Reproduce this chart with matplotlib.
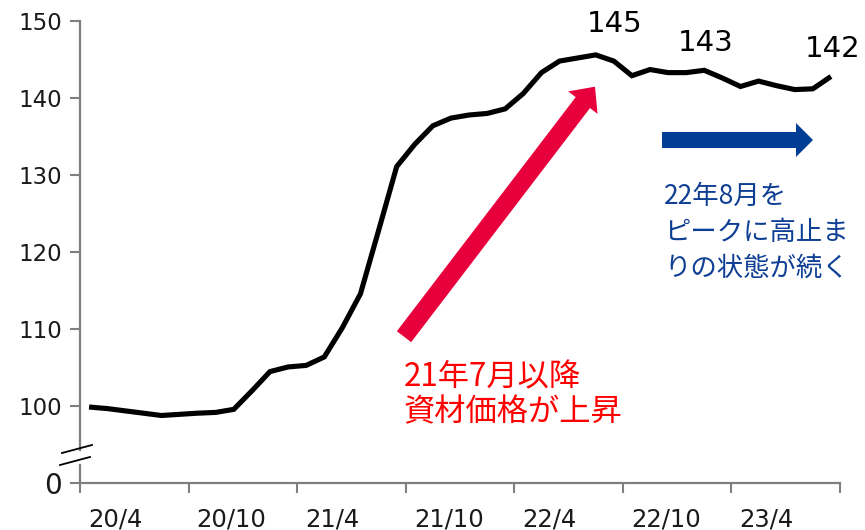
import matplotlib
matplotlib.use("Agg")
import matplotlib.pyplot as plt
from matplotlib.patches import FancyArrow
from matplotlib.lines import Line2D
import matplotlib.transforms as mtransforms

# ---------------- data ----------------
values = [99.9, 99.7, 99.4, 99.1, 98.8, 98.95, 99.1, 99.2, 99.6, 102.0,
          104.5, 105.1, 105.3, 106.4, 110.2, 114.6, 122.8, 131.1, 134.0, 136.4,
          137.4, 137.8, 138.0, 138.6, 140.6, 143.3, 144.8, 145.2, 145.6, 144.8,
          142.9, 143.7, 143.3, 143.3, 143.6, 142.6, 141.5, 142.2, 141.6, 141.1,
          141.2, 142.8]
tick_labels = ["20/4", "20/10", "21/4", "21/10", "22/4", "22/10", "23/4"]
ytick_values = [100, 110, 120, 130, 140, 150]
annot_labels = ["145", "143", "142"]
annot_index = [28, 34, 41]
red_text = "21年7月以降\n資材価格が上昇"
blue_text = "22年8月を\nピークに高止ま\nりの状態が続く"

W, H = 865, 530
fig = plt.figure(figsize=(W / 100, H / 100), dpi=100)

def fx(px):
    return px / W

def fy(py):
    return 1 - py / H

ax_left, ax_right, ax_top, ax_bot = 80, 840, 21, 483.3
ax = fig.add_axes([fx(ax_left), fy(ax_bot), fx(ax_right - ax_left), (ax_bot - ax_top) / H])

n = len(values)
x = list(range(n))
ax.plot(x, values, color="black", lw=3.7, solid_joinstyle="miter", solid_capstyle="butt")
ax.set_xlim(-0.5, n - 0.5)
ax.set_ylim(90, 150)

axis_col = "#7f7f7f"
for s in ["top", "right", "left"]:
    ax.spines[s].set_visible(False)
ax.spines["bottom"].set_color(axis_col)
ax.spines["bottom"].set_linewidth(1.6)

# left spine with a gap (axis break)
trans_y = mtransforms.blended_transform_factory(ax.transAxes, ax.transData)
ax.add_line(Line2D([0, 0], [90, 92.4], transform=trans_y, color=axis_col, lw=1.6, clip_on=False))
ax.add_line(Line2D([0, 0], [94.3, 150], transform=trans_y, color=axis_col, lw=1.6, clip_on=False))

# y ticks
ax.set_yticks([90] + ytick_values)
ax.set_yticklabels(["0"] + [str(v) for v in ytick_values])
ax.tick_params(axis="y", direction="out", length=7, width=1.5, color=axis_col,
               labelsize=16.5, pad=6, labelcolor="#1a1a1a")
ax.get_yticklabels()[0].set_fontsize(20)

# x ticks at category boundaries
step = 6
ax.set_xticks([i * step - 0.5 for i in range(len(tick_labels) + 1)])
ax.set_xticklabels([])
ax.tick_params(axis="x", direction="out", length=7, width=1.5, color=axis_col)
trans_x = mtransforms.blended_transform_factory(ax.transData, ax.transAxes)
for k, lab in enumerate(tick_labels):
    ax.annotate(lab, xy=(k * step, 0), xycoords=trans_x, xytext=(-1, -24),
                textcoords="offset pixels", ha="left", va="top",
                fontsize=17.5, color="#1a1a1a")

# break marks
for (x0, y0, x1, y1) in [(62, 453, 92, 445), (60, 465, 90, 457)]:
    fig.add_artist(Line2D([fx(x0), fx(x1)], [fy(y0), fy(y1)], transform=fig.transFigure,
                          color="black", lw=1.3))

# value annotations
offsets = [(19, 31), (1, 27), (2, 27.5)]
for lab, idx, off in zip(annot_labels, annot_index, offsets):
    ax.annotate(lab, xy=(idx, values[idx]), xytext=off, textcoords="offset pixels",
                ha="center", va="center", fontsize=21, color="black")

# arrows in pixel space (figure inches)
def px_arrow(x0, y0, x1, y1, width, head_w, head_l, color):
    dx = (x1 - x0) / 100
    dy = -(y1 - y0) / 100
    arr = FancyArrow(x0 / 100, (H - y0) / 100, dx, dy, width=width / 100,
                     head_width=head_w / 100, head_length=head_l / 100,
                     length_includes_head=True, color=color, lw=0,
                     transform=fig.dpi_scale_trans)
    fig.add_artist(arr)

px_arrow(404, 336.7, 595, 86.7, 18, 37, 20, "#E8003D")
px_arrow(662, 140, 813, 140, 16, 34, 17, "#003D94")

cjk = ["Noto Sans CJK JP", "DejaVu Sans"]
fig.text(fx(404), fy(395), red_text, ha="left", va="center", fontsize=22.5,
         color="#FF0000", family=cjk, linespacing=1.14)
fig.text(fx(664), fy(232), blue_text, ha="left", va="center", fontsize=19,
         color="#0F3F95", family=cjk, linespacing=1.42)

fig.savefig("out.png", dpi=100)
